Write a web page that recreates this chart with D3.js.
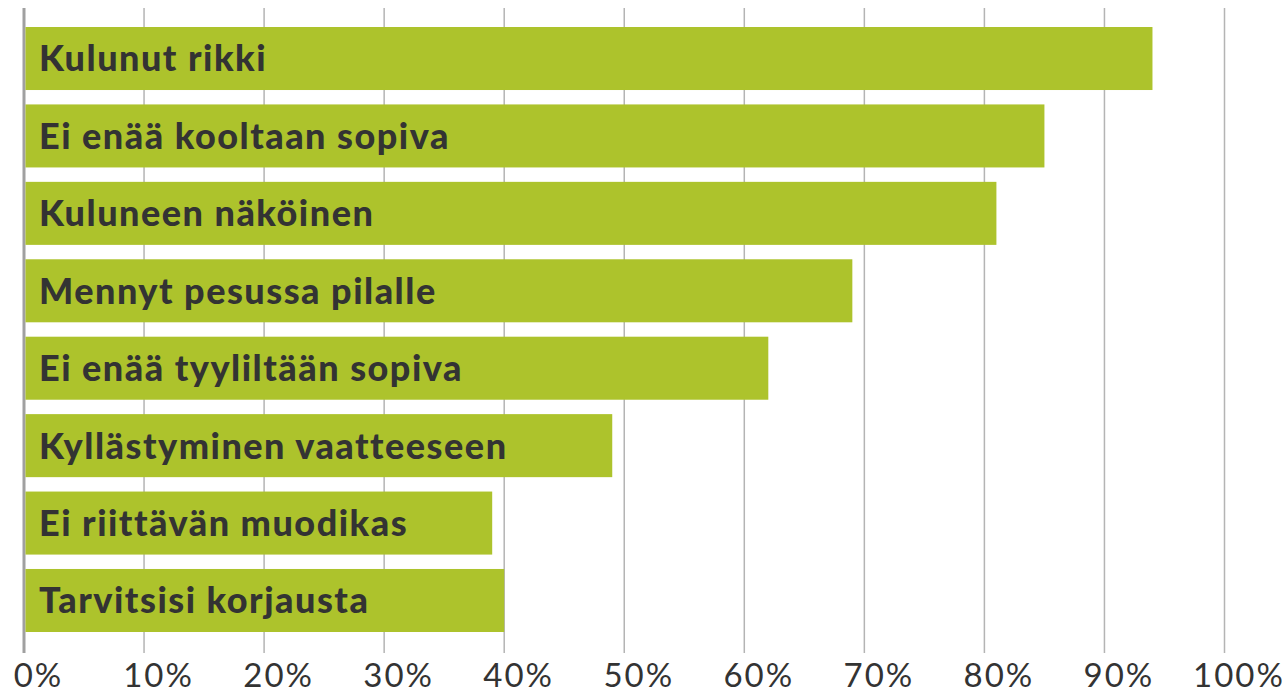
<!DOCTYPE html>
<html>
<head>
<meta charset="utf-8">
<script src="https://cdn.jsdelivr.net/npm/d3@7"></script>
<style>
  body { margin: 0; background: #fff; }
  svg { display: block; }
  .tick text { font-family: Lato, "Open Sans", sans-serif; fill: #333; }
</style>
</head>
<body>
<svg id="chart"></svg>
<script>
// reasons, read from top to bottom
var reasons = [
  "Kulunut rikki",
  "Ei enää kooltaan sopiva",
  "Kuluneen näköinen",
  "Mennyt pesussa pilalle",
  "Ei enää tyyliltään sopiva",
  "Kyllästyminen vaatteeseen",
  "Ei riittävän muodikas",
  "Tarvitsisi korjausta"
];
// share of answers, percent
var shares = [94, 85, 81, 69, 62, 49, 39, 40];
var tickValues = [0, 10, 20, 30, 40, 50, 60, 70, 80, 90, 100];

var width = 1288,
  height = 693;

var svg = d3.select("#chart").attr("width", width).attr("height", height);

var data = reasons.map(function (r, i) {
  return { reason: r, share: shares[i] };
});

var x = d3.scaleLinear().domain([0, 100]).range([24, 1224.5]);

var y = d3
  .scaleBand()
  .domain(reasons)
  .range([19.8, 639.2])
  .paddingInner(0.186)
  .paddingOuter(0.093);

// grid lines, one per tick
svg
  .append("g")
  .selectAll("line")
  .data(tickValues)
  .join("line")
  .attr("x1", function (d) { return x(d); })
  .attr("x2", function (d) { return x(d); })
  .attr("y1", 8)
  .attr("y2", 653)
  .attr("stroke", function (d) { return d === 0 ? "#a0a0a0" : "#b4b4b4"; })
  .attr("stroke-width", function (d) { return d === 0 ? 3 : 1.5; });

// bars
svg
  .append("g")
  .selectAll("rect")
  .data(data)
  .join("rect")
  .attr("x", x(0) + 1.5)
  .attr("y", function (d) { return y(d.reason); })
  .attr("width", function (d) { return x(d.share) - x(0) - 1.5; })
  .attr("height", y.bandwidth())
  .attr("fill", "#adc32c");

// labels inside the bars
svg
  .append("g")
  .selectAll("text")
  .data(data)
  .join("text")
  .attr("x", 39)
  .attr("y", function (d) { return y(d.reason) + y.bandwidth() / 2; })
  .attr("dy", "0.36em")
  .attr("font-family", "Lato, 'Open Sans', sans-serif")
  .attr("font-weight", 900)
  .attr("font-size", 36)
  .attr("letter-spacing", 1.5)
  .attr("fill", "#333")
  .text(function (d) { return d.reason; });

// x axis labels
var axis = svg
  .append("g")
  .attr("transform", "translate(0,653)")
  .call(
    d3
      .axisBottom(x)
      .tickValues(tickValues)
      .tickSize(0)
      .tickPadding(12)
      .tickFormat(function (d) { return d + "%"; })
  );
axis.select(".domain").remove();
axis
  .selectAll(".tick text")
  .attr("font-size", 33)
  .attr("letter-spacing", 2)
  .attr("dx", 14)
  .attr("dy", "0.68em");
</script>
</body>
</html>
